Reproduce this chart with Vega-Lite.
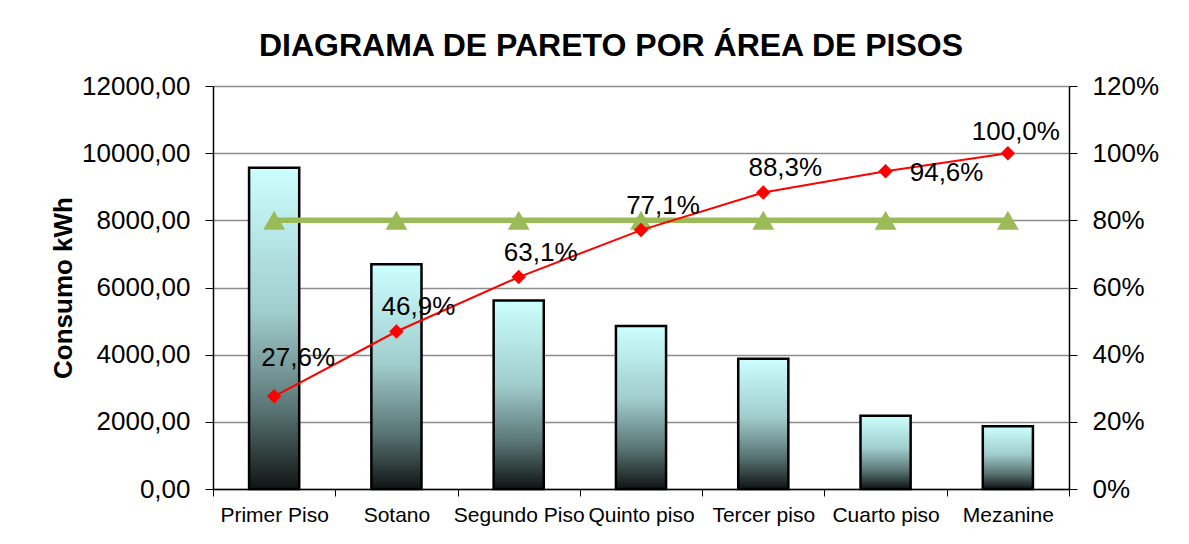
{
  "$schema": "https://vega.github.io/schema/vega-lite/v6.json",
  "autosize": "none",
  "width": 856,
  "height": 403,
  "padding": {"left": 213, "top": 86, "right": 120, "bottom": 55},
  "background": "white",
  "config": {
    "font": "Liberation Sans",
    "view": {"stroke": null},
    "axis": {"labelColor": "black", "labelFont": "Liberation Sans", "titleFont": "Liberation Sans", "titleColor": "black"}
  },
  "title": {
    "text": "DIAGRAMA DE PARETO POR ÁREA DE PISOS",
    "font": "Liberation Sans",
    "fontSize": 32,
    "fontWeight": "bold",
    "color": "black",
    "offset": 10,
    "dx": -30
  },
  "data": {
    "values": [
      {"piso": "Primer Piso", "consumo": 9566, "acumulado": 27.6, "etiqueta": "27,6%", "meta": 80},
      {"piso": "Sotano", "consumo": 6690, "acumulado": 46.9, "etiqueta": "46,9%", "meta": 80},
      {"piso": "Segundo Piso", "consumo": 5615, "acumulado": 63.1, "etiqueta": "63,1%", "meta": 80},
      {"piso": "Quinto piso", "consumo": 4853, "acumulado": 77.1, "etiqueta": "77,1%", "meta": 80},
      {"piso": "Tercer piso", "consumo": 3882, "acumulado": 88.3, "etiqueta": "88,3%", "meta": 80},
      {"piso": "Cuarto piso", "consumo": 2183, "acumulado": 94.6, "etiqueta": "94,6%", "meta": 80},
      {"piso": "Mezanine", "consumo": 1872, "acumulado": 100.0, "etiqueta": "100,0%", "meta": 80}
    ]
  },
  "encoding": {
    "x": {
      "field": "piso",
      "type": "nominal",
      "sort": null,
      "scale": {"paddingInner": 0, "paddingOuter": 0},
      "axis": {
        "title": null,
        "labelAngle": 0,
        "labelFontSize": 21,
        "labelPadding": 8,
        "labelOverlap": false,
        "labelLimit": 0,
        "tickBand": "extent",
        "tickSize": 7,
        "tickColor": "black",
        "domainColor": "black",
        "domainWidth": 1.5
      }
    }
  },
  "layer": [
    {
      "mark": {
        "type": "bar",
        "width": {"band": 0.41},
        "stroke": "black",
        "strokeWidth": 2.5,
        "color": {
          "gradient": "linear",
          "x1": 0, "y1": 0, "x2": 0, "y2": 1,
          "stops": [
            {"offset": 0, "color": "#CCFFFF"},
            {"offset": 0.45, "color": "#A0CCCC"},
            {"offset": 0.75, "color": "#5A7575"},
            {"offset": 1, "color": "#101414"}
          ]
        }
      },
      "encoding": {
        "y": {
          "field": "consumo",
          "type": "quantitative",
          "scale": {"domain": [0, 12000], "nice": false},
          "axis": {
            "title": "Consumo kWh",
            "titleFontSize": 26,
            "titleFontWeight": "bold",
            "titlePadding": 5,
            "values": [0, 2000, 4000, 6000, 8000, 10000, 12000],
            "labelExpr": "replace(format(datum.value, '.2f'), '.', ',')",
            "labelFontSize": 26,
            "labelPadding": 15,
            "tickSize": 8,
            "tickColor": "black",
            "domainColor": "black",
            "domainWidth": 1.5,
            "grid": true,
            "gridColor": "#8c8c8c",
            "gridWidth": 1.5
          }
        }
      }
    },
    {
      "encoding": {
        "y": {
          "type": "quantitative",
          "scale": {"domain": [0, 120], "nice": false},
          "axis": {
            "orient": "right",
            "title": null,
            "values": [0, 20, 40, 60, 80, 100, 120],
            "labelExpr": "format(datum.value, 'd') + '%'",
            "labelFontSize": 26,
            "labelPadding": 15,
            "tickSize": 8,
            "tickColor": "black",
            "domainColor": "black",
            "domainWidth": 1.5,
            "grid": false
          }
        }
      },
      "layer": [
        {
          "mark": {"type": "line", "color": "#9BBB59", "strokeWidth": 5.5},
          "encoding": {"y": {"field": "meta", "type": "quantitative"}}
        },
        {
          "mark": {"type": "point", "shape": "triangle-up", "filled": true, "size": 480, "color": "#9BBB59", "opacity": 1},
          "encoding": {"y": {"field": "meta", "type": "quantitative"}}
        },
        {
          "mark": {"type": "line", "color": "#FF0000", "strokeWidth": 2},
          "encoding": {"y": {"field": "acumulado", "type": "quantitative"}}
        },
        {
          "mark": {"type": "point", "shape": "diamond", "filled": true, "size": 210, "color": "#FF0000", "opacity": 1},
          "encoding": {"y": {"field": "acumulado", "type": "quantitative"}}
        },
        {
          "transform": [{"filter": "datum.acumulado > 30 && datum.acumulado < 94"}],
          "mark": {"type": "text", "fontSize": 26, "color": "black", "dx": 22, "dy": -24, "baseline": "middle"},
          "encoding": {"y": {"field": "acumulado", "type": "quantitative"}, "text": {"field": "etiqueta"}}
        },
        {
          "transform": [{"filter": "datum.acumulado > 99"}],
          "mark": {"type": "text", "fontSize": 26, "color": "black", "dx": 8, "dy": -21, "baseline": "middle"},
          "encoding": {"y": {"field": "acumulado", "type": "quantitative"}, "text": {"field": "etiqueta"}}
        },
        {
          "transform": [{"filter": "datum.acumulado < 30"}],
          "mark": {"type": "text", "fontSize": 26, "color": "black", "dx": 24, "dy": -38, "baseline": "middle"},
          "encoding": {"y": {"field": "acumulado", "type": "quantitative"}, "text": {"field": "etiqueta"}}
        },
        {
          "transform": [{"filter": "datum.acumulado > 94 && datum.acumulado < 99"}],
          "mark": {"type": "text", "fontSize": 26, "color": "black", "dx": 61, "dy": 2, "baseline": "middle"},
          "encoding": {"y": {"field": "acumulado", "type": "quantitative"}, "text": {"field": "etiqueta"}}
        }
      ]
    }
  ],
  "resolve": {"scale": {"y": "independent"}}
}
